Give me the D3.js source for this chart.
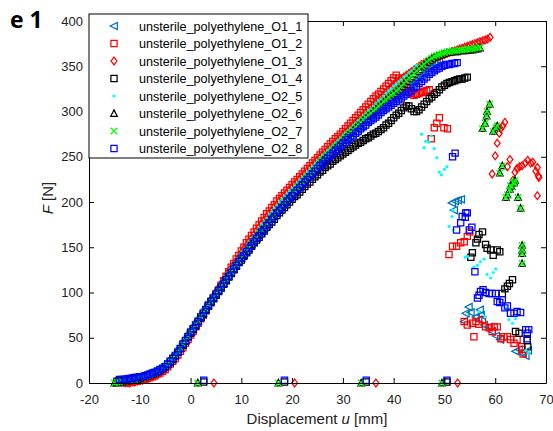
<!DOCTYPE html>
<html lang="en">
<head>
<meta charset="UTF-8">
<title>Force vs displacement</title>
<script src="https://d3js.org/d3.v7.min.js"></script>
<style>
  body { margin: 0; background: #fff; }
  svg { display: block; }
  text { font-family: "Liberation Sans", Arial, sans-serif; }
  .tick text { font-size: 13px; fill: #222; }
  .axis-label { font-size: 15px; fill: #222; }
  .legend-text { font-size: 12.6px; fill: #000; }
  .panel { font-family: "Open Sans", sans-serif; font-weight: bold; font-size: 23px; }
</style>
</head>
<body>
<svg width="553" height="431"></svg>
<script>
// displacement grid of the loading curves [mm]
const uGrid = [-15,-14.5,-14,-13.5,-13,-12.5,-12,-11.5,-11,-10.5,-10,-9.5,-9,-8.5,-8,-7.5,-7,-6.5,-6,-5.5,-5,-4.5,-4,-3.5,-3,-2.5,-2,-1.5,-1,-0.5,
  0,0.5,1,1.5,2,2.5,3,3.5,4,4.5,5,5.5,6,6.5,7,7.5,8,8.5,9,9.5,
  10,10.5,11,11.5,12,12.5,13,13.5,14,14.5,15,15.5,16,16.5,17,17.5,18,18.5,19,19.5,
  20,20.5,21,21.5,22,22.5,23,23.5,24,24.5,25,25.5,26,26.5,27,27.5,28,28.5,29,29.5,
  30,30.5,31,31.5,32,32.5,33,33.5,34,34.5,35,35.5,36,36.5,37,37.5,38,38.5,39,39.5,
  40,40.5,41,41.5,42,42.5,43,43.5,44,44.5,45,45.5,46,46.5,47,47.5,48,48.5,49,49.5,
  50,50.5,51,51.5,52,52.5,53,53.5,54,54.5,55,55.5,56,56.5,57,57.5,58,58.5,59];

// force [N] on uGrid, null = no sample
const loadO1_1 = [null,null,3,4,4,5,5,5,6,6,7,8,8,9,10,11,12,14,15,17,19,22,25,28,31,35,39,43,47,52,
  56,60,64,69,73,77,82,86,90,94, 98,102,106,110,114,118,122,126,130,134,
  138,142,145,149,153,156,160,164,167,171, 174,178,181,185,188,191,195,198,201,204,
  207,211,214,217,220,223,226,229,232,235, 238,241,244,246,249,252,255,257,260,262,
  265,268,270,273,275,278,280,283,285,288, 290,293,295,297,300,302,304,307,309,311,
  314,316,318,321,323,326,328,330,333,335, 338,340,342,345,347,349,352,354,356];
const loadO1_2 = [null,null,null,null,0,0,1,1,2,2,3,3,4,5,6,7,8,10,11,13,15,18,21,24,27,31,35,39,44,48,
  53,57,62,66,71,75,80,85,89,94, 99,103,108,113,118,123,128,132,137,141,
  146,150,155,159,163,167,171,175,179,183, 187,190,194,197,201,204,207,210,213,216,
  219,222,225,228,231,234,237,240,243,246, 249,252,255,258,261,264,267,270,272,275,
  278,281,284,287,290,293,296,299,302,305, 308,311,314,317,319,322,325,328,331,334,
  337,340,337,333,328,325,322,320,318,319, 320,321,322,323,324];
const loadO1_3 = [null,null,null,null,null,null,0,1,1,2,3,3,4,5,6,7,9,10,12,14,16,19,22,25,29,33,38,42,47,51,
  56,60,64,69,73,78,82,87,91,96, 100,105,109,114,118,123,127,131,135,139,
  144,148,152,156,160,164,168,172,176,180, 183,187,190,194,197,201,204,207,210,213,
  216,219,222,225,228,231,234,237,240,243, 246,249,252,254,257,260,263,266,268,271,
  274,277,279,282,285,288,290,293,296,299, 302,304,307,310,313,315,318,321,324,326,
  329,331,334,336,338,340,342,344,346,348, 350,352,353,355,356,358,359,360,361,362,
  363,364,365,366,367,368,369,370,371,372, 373,374,375,376,377,378,379,380,382];
const loadO1_4 = [null,2,3,3,4,4,4,5,5,6,6,7,7,8,9,10,11,13,14,16,18,20,23,26,30,34,38,42,46,51,
  55,59,63,68,72,76,80,85,89,93, 97,101,105,109,113,117,121,125,129,133,
  136,140,144,147,151,155,158,161,165,168, 172,175,178,181,185,188,191,194,197,200,
  203,206,208,211,214,217,220,222,225,228, 230,233,235,238,240,242,245,247,249,251,
  253,255,257,259,261,263,265,266,268,270, 271,273,275,276,278,280,282,285,287,290,
  293,296,298,301,304,306,306,303,300,300, 302,305,308,311,314,316,319,321,324,327,
  329,331,332,333,334,335,336,336,337,338];
const loadO2_5 = [null,1,2,2,3,3,4,4,5,5,6,7,7,8,9,10,11,13,14,16,18,20,23,26,30,33,37,41,46,50,
  55,59,63,68,72,77,81,86,90,95, 99,104,108,113,117,122,126,130,134,138,
  143,147,151,155,159,163,167,171,175,178, 182,186,189,193,196,200,203,206,209,212,
  215,218,221,224,227,230,233,236,239,242, 245,248,251,254,257,259,262,265,268,270,
  273,276,279,281,284,287,290,292,295,298, 301,303,306,309,312,314,317,320,323,325,
  328,330,333,335,338,340,343,345,348,351];
const loadO2_6 = [0,0,1,1,2,2,3,3,4,4,5,6,7,8,9,10,11,12,14,16,18,21,24,27,31,34,38,42,47,51,
  56,60,64,68,73,77,81,86,90,94, 98,102,106,110,114,118,122,126,130,134,
  138,142,145,149,153,157,160,164,168,171, 175,178,182,185,189,192,195,199,202,205,
  208,212,215,218,221,224,227,230,233,236, 240,243,246,249,251,254,257,260,262,265,
  268,271,274,276,279,282,284,287,290,292, 295,297,300,302,305,307,310,312,315,317,
  319,322,324,327,330,333,336,338,341,344, 346,349,351,354,356,358,360,361,362,363,
  364,365,365,366,366,366,367,367,367,368, 368,368,369,369,370];
const loadO2_7 = [0,1,1,2,2,3,3,4,4,5,6,6,7,8,9,10,11,13,15,17,19,21,24,28,31,35,39,43,47,52,
  57,61,65,69,74,78,82,87,91,95, 99,103,107,111,115,119,123,127,131,135,
  139,143,146,150,154,158,161,165,169,172, 176,179,183,186,190,193,196,200,203,206,
  209,213,216,219,222,225,228,231,234,237, 241,244,247,250,252,255,258,261,263,266,
  269,272,275,277,280,283,285,288,291,293, 296,298,301,303,306,308,311,313,316,318,
  320,323,325,328,331,334,337,339,342,345, 347,350,352,355,357,359,361,362,363,364,
  365,366,366,367,367,367,368,368,368,369, 369,369,370,370,371];
const loadO2_8 = [null,null,4,4,4,4,5,5,6,6,7,7,8,9,10,11,12,13,15,16,18,21,24,27,30,34,38,43,47,51,
  56,60,64,68,73,77,81,86,90,94, 98,102,106,110,114,118,122,126,130,134,
  138,141,145,149,152,156,160,163,167,170, 174,177,181,184,188,191,194,197,201,204,
  207,210,213,216,219,222,225,228,231,234, 237,240,242,245,248,251,253,256,258,261,
  264,266,269,271,273,276,278,281,283,285, 288,290,292,294,296,299,301,303,305,307,
  309,311,313,315,317,319,321,323,326,328, 331,333,336,338,341,343,345,347,348,350,
  351,352,352,353,353,354];

// samples after failure and on the zero line [u, F]
const tailO1_1 = [[51.5,199],[52.1,201],[52.7,202],[53.3,203],[51.9,191],[54.8,84],[54.2,77],[53.9,68],
  [55.2,78],[56.2,73],[56.7,70],[57.0,81],[57.2,75],[57.8,64],[58.8,62],[59.4,57],[60.2,52],[61.0,48],
  [64.0,35],[64.7,37],[65.3,33],[66.0,30],[66.5,36]];
const tailO1_2 = [[49.0,293],[48.5,287],[48.0,282],[49.9,282],[50.6,281],[47.4,270],
  [50.9,142],[51.6,151],[52.4,151],[53.2,155],[53.9,156],[54.5,162],[55.0,167],
  [53.9,68],[54.5,64],[55.5,66],[56.2,68],[56.8,65],[57.5,70],[58.1,62],[58.8,61],[59.4,57],[59.8,62],
  [60.4,62],[55.8,51],[61.1,49],[61.7,51],[62.4,51],[63.0,48],[63.7,44],[64.3,48],[65.2,40],[65.3,37],[65.5,32]];
const tailO1_3 = [[61.9,288],[61.5,284],[61.1,281],[60.8,276],[60.4,265],[60.0,251],[59.4,231],[62.4,239],
  [62.9,247],[63.5,224],[63.9,233],[64.3,237],[64.8,239],[65.3,240],[65.9,243],[66.4,246],[67.0,243],
  [67.4,244],[68.0,234],[68.3,238],[68.5,229],[68.6,227],[68.3,207],
  [4.6,0],[20.5,0],[36.5,0],[52.6,0]];
const tailO1_4 = [[57.5,167],[56.8,164],[56.5,159],[56.2,155],[55.5,144],[55.2,139],[58.1,153],[58.4,149],
  [59.1,147],[59.6,141],[60.4,147],[60.9,145],[61.4,99],[61.9,104],[62.4,107],[62.8,110],[63.4,114],
  [64.0,57],[64.7,55],[66.3,47],[66.4,40],
  [2.6,1],[18.5,1],[34.6,1],[50.5,1]];
const tailO2_5 = [[45.5,275],[47.4,273],[46.3,267],[46.9,266],[46.0,260],[48.0,259],[48.5,249],[49.0,233],
  [49.4,230],[50.0,236],[50.5,239],[51.5,184],[51.6,191],[50.9,173],[51.7,169],[54.1,139],[54.5,140],
  [55.8,128],[56.5,130],[57.1,134],[57.8,137],[58.4,120],[59.1,116],[59.6,122],[60.1,126],
  [56.8,79],[58.0,73],[60.4,94],[62.1,83],[62.7,70],[63.4,66],[64.0,71],[66.0,36],[66.5,33]];
const tailO2_6 = [[58.9,308],[58.4,300],[58.3,295],[58.0,287],[57.5,281],[60.4,284],[60.1,282],[59.6,278],
  [61.4,240],[60.9,232],[63.9,224],[63.6,221],[63.2,217],[62.9,214],[62.4,208],[62.1,205],[64.5,205],
  [65.0,193],[63.0,218],[63.7,222],[65.3,152],[65.3,147],[65.3,143],[65.3,132],
  [1.4,0],[17.3,0],[33.6,0],[49.5,0]];
const tailO2_7 = [[58.9,308],[58.4,300],[58.3,295],[58.0,287],[57.5,281],[60.4,284],[60.1,282],[59.6,278],
  [61.4,240],[60.9,232],[63.9,224],[63.6,221],[63.2,217],[62.9,214],[62.4,208],[62.1,205],[64.5,205],
  [65.0,193],[63.0,218],[63.7,222],[65.3,152],[65.3,147],[65.3,143],[65.3,132],
  [1.4,0],[17.3,0],[33.6,0],[49.5,0]];
const tailO2_8 = [[52.1,254],[51.6,250],[54.2,188],[53.5,184],[54.5,188],[54.1,183],[53.2,177],[52.4,169],
  [54.9,169],[55.4,172],[56.0,123],[56.5,94],[56.8,97],[57.1,101],[57.6,103],[58.1,100],[58.8,99],
  [59.4,99],[60.1,99],[60.4,90],[60.9,89],[61.4,92],[61.9,83],[62.4,85],[63.0,77],[63.7,77],[64.3,79],
  [65.0,78],[66.0,59],[66.3,55],[66.6,59],[66.3,49],
  [2.6,3],[18.5,3],[34.6,3],[50.5,3]];

const seriesNames = ["unsterile_polyethylene_O1_1","unsterile_polyethylene_O1_2","unsterile_polyethylene_O1_3",
  "unsterile_polyethylene_O1_4","unsterile_polyethylene_O2_5","unsterile_polyethylene_O2_6",
  "unsterile_polyethylene_O2_7","unsterile_polyethylene_O2_8"];
const xTicks = [-20,-10,0,10,20,30,40,50,60,70];
const yTicks = [0,50,100,150,200,250,300,350,400];

const loads = [loadO1_1, loadO1_2, loadO1_3, loadO1_4, loadO2_5, loadO2_6, loadO2_7, loadO2_8];
const tails = [tailO1_1, tailO1_2, tailO1_3, tailO1_4, tailO2_5, tailO2_6, tailO2_7, tailO2_8];
const colors = ["#0072BD","#FF0000","#FF0000","#000000","#00FFFF","#000000","#00FF00","#0000FF"];
const shapes = ["triLeft","square","diamond","square","point","triUp","cross","square"];

const markerPath = {
  triLeft: `M-3.8,0L3.3,-3.6L3.3,3.6Z`,
  square: `M-3.1,-3.1H3.1V3.1H-3.1Z`,
  diamond: `M0,-3.9L2.9,0L0,3.9L-2.9,0Z`,
  triUp: `M0,-3.6L3.3,2.8L-3.3,2.8Z`,
  cross: `M-3.2,-3.2L3.2,3.2M-3.2,3.2L3.2,-3.2`,
  point: `M-1.6,0A1.6,1.6 0 1,0 1.6,0A1.6,1.6 0 1,0 -1.6,0Z`
};

const svg = d3.select("svg");
const x = d3.scaleLinear().domain([-20, 70]).range([89, 546]);
const y = d3.scaleLinear().domain([0, 400]).range([383, 21]);

function styleMarker(sel, i) {
  const pt = shapes[i] === "point";
  sel.attr("d", markerPath[shapes[i]])
    .attr("fill", pt ? colors[i] : "none")
    .attr("stroke", pt ? "none" : colors[i])
    .attr("stroke-width", 1.25);
}

// data
loads.forEach((load, i) => {
  const pts = uGrid.map((u, k) => [u, load[k]])
    .filter(d => d[1] != null)
    .concat(tails[i]);
  svg.append("g")
    .selectAll("path").data(pts).join("path")
    .attr("transform", d => `translate(${x(d[0])},${y(d[1])})`)
    .call(styleMarker, i);
});

// axes (inward ticks on all four sides)
const fmt = d => String(d);
function tidy(g) {
  g.attr("font-family", null).attr("font-size", null).attr("color", "#000");
  g.select(".domain").attr("stroke-width", 1);
}
svg.append("g").attr("transform", "translate(0,383)")
  .call(d3.axisBottom(x).tickValues(xTicks).tickFormat(fmt).tickSize(-5).tickSizeOuter(0).tickPadding(12))
  .call(tidy);
svg.append("g").attr("transform", "translate(89,0)")
  .call(d3.axisLeft(y).tickValues(yTicks).tickFormat(fmt).tickSize(-5).tickSizeOuter(0).tickPadding(6))
  .call(tidy);
svg.append("g").attr("transform", "translate(0,21)")
  .call(d3.axisTop(x).tickValues(xTicks).tickFormat("").tickSize(-5).tickSizeOuter(0))
  .call(tidy);
svg.append("g").attr("transform", "translate(546,0)")
  .call(d3.axisRight(y).tickValues(yTicks).tickFormat("").tickSize(-5).tickSizeOuter(0))
  .call(tidy);

// axis labels
const xl = svg.append("text").attr("class", "axis-label")
  .attr("x", 317).attr("y", 424).attr("text-anchor", "middle");
xl.append("tspan").text("Displacement ");
xl.append("tspan").attr("font-style", "italic").text("u");
xl.append("tspan").text(" [mm]");

const yl = svg.append("text").attr("class", "axis-label")
  .attr("transform", "translate(53,198) rotate(-90)").attr("text-anchor", "middle");
yl.append("tspan").attr("font-style", "italic").text("F");
yl.append("tspan").text(" [N]");

svg.append("text").attr("class", "panel").attr("x", 10).attr("y", 28).text("e 1");

// legend
const legend = svg.append("g");
legend.append("rect")
  .attr("x", 89).attr("y", 14).attr("width", 219).attr("height", 144)
  .attr("fill", "#fff").attr("stroke", "#000").attr("stroke-width", 1);
seriesNames.forEach((name, i) => {
  const cy = 26 + i * 17.5;
  legend.append("path").attr("transform", `translate(114,${cy})`).call(styleMarker, i);
  legend.append("text").attr("class", "legend-text")
    .attr("x", 139).attr("y", cy + 4.5).text(name);
});
</script>
</body>
</html>
